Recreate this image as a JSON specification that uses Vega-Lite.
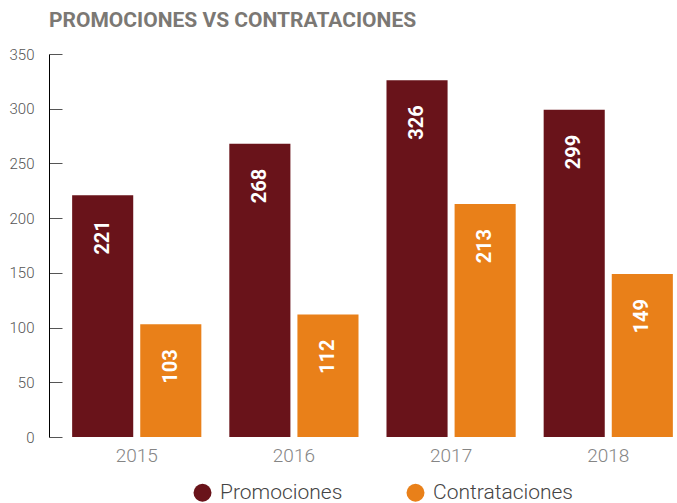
{
  "$schema": "https://vega.github.io/schema/vega-lite/v6.json",
  "width": 607,
  "height": 383,
  "autosize": {"type": "none"},
  "padding": {"left": 69, "top": 54, "right": 1, "bottom": 66},
  "background": "white",
  "title": {
    "text": "PROMOCIONES VS CONTRATACIONES",
    "anchor": "start",
    "frame": "group",
    "dx": -20,
    "offset": 16,
    "font": "Roboto",
    "fontSize": 21,
    "fontWeight": "bold",
    "color": "#7b7874"
  },
  "data": {
    "values": [
      {"year": "2015", "series": "Promociones", "value": 221},
      {"year": "2015", "series": "Contrataciones", "value": 103},
      {"year": "2016", "series": "Promociones", "value": 268},
      {"year": "2016", "series": "Contrataciones", "value": 112},
      {"year": "2017", "series": "Promociones", "value": 326},
      {"year": "2017", "series": "Contrataciones", "value": 213},
      {"year": "2018", "series": "Promociones", "value": 299},
      {"year": "2018", "series": "Contrataciones", "value": 149}
    ]
  },
  "config": {
    "view": {"stroke": null},
    "font": "Roboto"
  },
  "encoding": {
    "x": {
      "field": "year",
      "type": "nominal",
      "scale": {"paddingInner": 0.178, "paddingOuter": 0.02},
      "axis": {
        "title": null,
        "domain": false,
        "ticks": false,
        "labelAngle": 0,
        "labelFont": "Roboto",
        "labelFontSize": 19,
        "labelFontWeight": 300,
        "labelColor": "#858585",
        "labelPadding": 9
      }
    },
    "xOffset": {
      "field": "series",
      "type": "nominal",
      "sort": ["Promociones", "Contrataciones"],
      "scale": {"paddingInner": 0.103, "paddingOuter": 0}
    },
    "y": {
      "field": "value",
      "type": "quantitative",
      "scale": {"domain": [0, 350], "nice": false},
      "axis": {
        "title": null,
        "grid": false,
        "values": [0, 50, 100, 150, 200, 250, 300, 350],
        "offset": 20,
        "domainColor": "#000000",
        "domainWidth": 1,
        "tickColor": "#555555",
        "tickSize": -13,
        "labelPadding": 28,
        "labelFont": "Roboto",
        "labelFontSize": 15,
        "labelFontWeight": 300,
        "labelColor": "#555555"
      }
    }
  },
  "layer": [
    {
      "mark": {"type": "bar"},
      "encoding": {
        "color": {
          "field": "series",
          "type": "nominal",
          "sort": ["Promociones", "Contrataciones"],
          "scale": {"domain": ["Promociones", "Contrataciones"], "range": ["#69131A", "#E98019"]},
          "legend": {
            "title": null,
            "orient": "none",
            "legendX": 123,
            "legendY": 428,
            "direction": "horizontal",
            "symbolType": "circle",
            "symbolSize": 324,
            "symbolStrokeWidth": 0,
            "labelFont": "Roboto",
            "labelFontSize": 21,
            "labelFontWeight": 300,
            "labelColor": "#444444",
            "labelOffset": 7,
            "columnPadding": 62
          }
        }
      }
    },
    {
      "mark": {
        "type": "text",
        "angle": 270,
        "align": "right",
        "baseline": "middle",
        "dx": -25,
        "font": "Roboto",
        "fontSize": 20,
        "fontWeight": "bold",
        "color": "white"
      },
      "encoding": {
        "text": {"field": "value", "type": "quantitative"}
      }
    }
  ]
}
